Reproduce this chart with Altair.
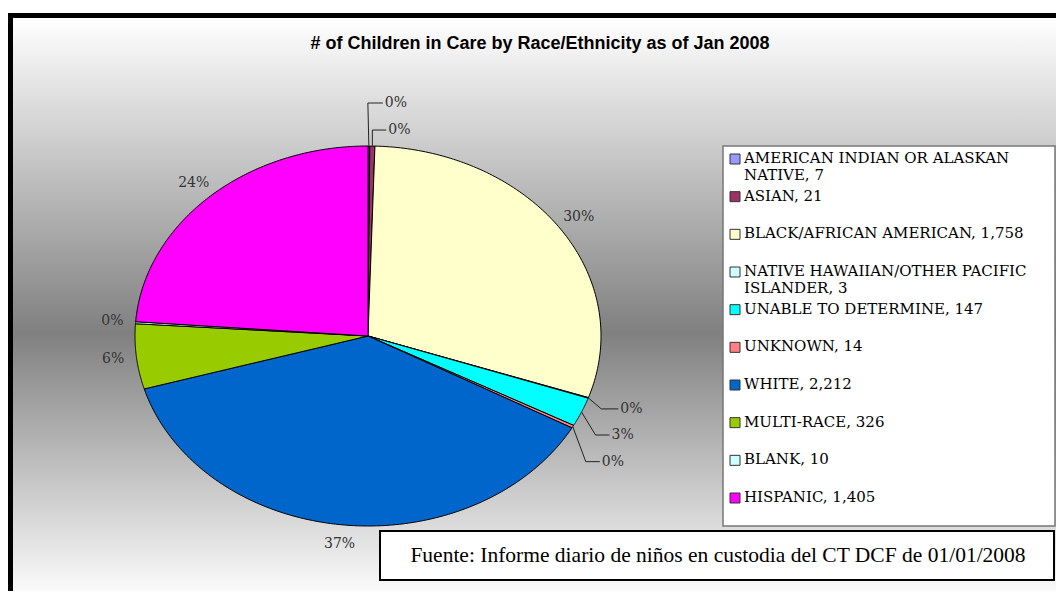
import altair as alt
import pandas as pd

# ---------------- data ----------------
categories = [
    "AMERICAN INDIAN OR ALASKAN NATIVE", "ASIAN", "BLACK/AFRICAN AMERICAN",
    "NATIVE HAWAIIAN/OTHER PACIFIC ISLANDER", "UNABLE TO DETERMINE", "UNKNOWN",
    "WHITE", "MULTI-RACE", "BLANK", "HISPANIC",
]
values = [7, 21, 1758, 3, 147, 14, 2212, 326, 10, 1405]
pct_labels = ["0%", "0%", "30%", "0%", "3%", "0%", "37%", "6%", "0%", "24%"]
legend_labels = [
    "AMERICAN INDIAN OR ALASKAN\nNATIVE, 7", "ASIAN, 21", "BLACK/AFRICAN AMERICAN, 1,758",
    "NATIVE HAWAIIAN/OTHER PACIFIC\nISLANDER, 3", "UNABLE TO DETERMINE, 147", "UNKNOWN, 14",
    "WHITE, 2,212", "MULTI-RACE, 326", "BLANK, 10", "HISPANIC, 1,405",
]
colors = ["#9999FF", "#993366", "#FFFFCC", "#CCFFFF", "#00FFFF",
          "#FF8080", "#0066CC", "#99CC00", "#CCFFFF", "#FF00FF"]

title_text = "# of Children in Care by Race/Ethnicity as of Jan 2008"
source_text = "Fuente: Informe diario de niños en custodia del CT DCF de 01/01/2008"

# ---------------- layout (pixels) ----------------
W, H = 1048, 583
CX, CY, RX, RY = 360, 328, 233, 190
# leader lines for the thin slices: elbow dx, elbow dy, end dx (px from slice edge)
leader_layout = {
    "AMERICAN INDIAN OR ALASKAN NATIVE": (-1, -43, 14),
    "ASIAN": (0, -16, 14),
    "NATIVE HAWAIIAN/OTHER PACIFIC ISLANDER": (13, 11, 30),
    "UNABLE TO DETERMINE": (14, 23, 28),
    "UNKNOWN": (13, 35, 27),
}

df = pd.DataFrame({
    "category": categories,
    "value": values,
    "pct": pct_labels,
    "legend": legend_labels,
    "order": list(range(len(categories))),
})
df["lead"] = df["category"].isin(leader_layout.keys())
df["ex"] = [leader_layout.get(c, (0, 0, 0))[0] for c in categories]
df["ey"] = [leader_layout.get(c, (0, 0, 0))[1] for c in categories]
df["tx"] = [leader_layout.get(c, (0, 0, 0))[2] for c in categories]

dummy = pd.DataFrame({"a": [0]})

xs = alt.Scale(domain=[-1, 1], range=[CX - RX, CX + RX], nice=False, zero=False)
ys = alt.Scale(domain=[-1, 1], range=[CY + RY, CY - RY], nice=False, zero=False)
cscale = alt.Scale(domain=categories, range=colors)


def with_angles(ch):
    return (
        ch.transform_joinaggregate(total="sum(value)")
        .transform_window(cum="sum(value)", sort=[alt.SortField("order")], frame=[None, 0])
        .transform_calculate(
            a0="2*PI*(datum.cum - datum.value)/datum.total",
            a1="2*PI*datum.cum/datum.total",
            mid="2*PI*(datum.cum - datum.value/2)/datum.total",
        )
    )


# background with gradient and black frame
bg = alt.Chart(dummy).mark_rect(
    fill=alt.LinearGradient(
        gradient="linear",
        stops=[alt.GradientStop(color="#ffffff", offset=0),
               alt.GradientStop(color="#808080", offset=0.55),
               alt.GradientStop(color="#fafafa", offset=1)],
        x1=0, x2=0, y1=0, y2=1,
    )
).encode(x=alt.value(5), x2=alt.value(W), y=alt.value(10), y2=alt.value(H))

frame_top = alt.Chart(dummy).mark_rect(color="black").encode(
    x=alt.value(0), x2=alt.value(W), y=alt.value(5), y2=alt.value(10))
frame_left = alt.Chart(dummy).mark_rect(color="black").encode(
    x=alt.value(0), x2=alt.value(5), y=alt.value(5), y2=alt.value(H))

# pie slices as filled polygons on an elliptical x/y scale
pie = (
    with_angles(alt.Chart(df))
    .transform_calculate(ks="sequence(0, 122)")
    .transform_flatten(["ks"], as_=["k"])
    .transform_calculate(
        ang="datum.a0 + (datum.a1 - datum.a0) * (datum.k - 1) / 119",
        px="(datum.k == 0 || datum.k == 121) ? 0 : sin(datum.ang)",
        py="(datum.k == 0 || datum.k == 121) ? 0 : cos(datum.ang)",
    )
    .mark_line(filled=True, stroke="black", strokeWidth=1, strokeJoin="round")
    .encode(
        x=alt.X("px:Q", scale=xs, axis=None),
        y=alt.Y("py:Q", scale=ys, axis=None),
        order=alt.Order("k:Q"),
        color=alt.Color("category:N", scale=cscale, legend=None),
        detail="category:N",
    )
)

# leader lines
leaders = (
    with_angles(alt.Chart(df))
    .transform_filter("datum.lead")
    .transform_calculate(ps="sequence(0, 3)")
    .transform_flatten(["ps"], as_=["p"])
    .transform_calculate(
        lx=f"sin(datum.mid) + (datum.p == 0 ? 0 : (datum.p == 1 ? datum.ex : datum.tx))/{RX}",
        ly=f"cos(datum.mid) - (datum.p == 0 ? 0 : datum.ey)/{RY}",
    )
    .mark_line(color="#222222", strokeWidth=1)
    .encode(
        x=alt.X("lx:Q", scale=xs, axis=None),
        y=alt.Y("ly:Q", scale=ys, axis=None),
        order=alt.Order("p:Q"),
        detail="category:N",
    )
)

lead_text = (
    with_angles(alt.Chart(df))
    .transform_filter("datum.lead")
    .transform_calculate(
        lx=f"sin(datum.mid) + (datum.tx + 2)/{RX}",
        ly=f"cos(datum.mid) - datum.ey/{RY}",
    )
    .mark_text(align="left", baseline="middle", font="DejaVu Serif", fontSize=14, color="#333333")
    .encode(
        x=alt.X("lx:Q", scale=xs, axis=None),
        y=alt.Y("ly:Q", scale=ys, axis=None),
        text="pct:N",
    )
)

main_text = (
    with_angles(alt.Chart(df))
    .transform_filter("!datum.lead")
    .transform_calculate(
        lx="1.1*sin(datum.mid)",
        ly="1.1*cos(datum.mid)",
    )
    .mark_text(align="center", baseline="middle", font="DejaVu Serif", fontSize=14, color="#333333")
    .encode(
        x=alt.X("lx:Q", scale=xs, axis=None),
        y=alt.Y("ly:Q", scale=ys, axis=None),
        text="pct:N",
    )
)

# legend (drawn by hand inside a box)
legend_box = alt.Chart(dummy).mark_rect(fill="white", stroke="#777777", strokeWidth=1.5).encode(
    x=alt.value(715), x2=alt.value(W - 1), y=alt.value(138), y2=alt.value(518))

leg_y = alt.Scale(type="point", domain=categories, range=[151, 490], padding=0)
legend_sq = alt.Chart(df).mark_square(size=100, stroke="#333333", strokeWidth=1, opacity=1).encode(
    x=alt.value(727),
    y=alt.Y("category:N", scale=leg_y, axis=None),
    color=alt.Color("category:N", scale=cscale, legend=None),
)
leg_y_text = alt.Scale(type="point", domain=categories, range=[143, 482], padding=0)
legend_txt = alt.Chart(df).mark_text(
    align="left", baseline="top", font="DejaVu Serif", fontSize=15, lineHeight=16.5,
    lineBreak="\n", color="black",
).encode(
    x=alt.value(736),
    y=alt.Y("category:N", scale=leg_y_text, axis=None),
    text="legend:N",
)

# source box
src_box = alt.Chart(dummy).mark_rect(fill="white", stroke="black", strokeWidth=2).encode(
    x=alt.value(372), x2=alt.value(W - 2), y=alt.value(523), y2=alt.value(572))
src_txt = alt.Chart(dummy).mark_text(
    text=source_text, font="Liberation Serif", fontSize=21.5, color="black",
    align="center", baseline="middle",
).encode(x=alt.value(710), y=alt.value(548))

title = alt.Chart(dummy).mark_text(
    text=title_text, font="Liberation Sans", fontSize=18, fontWeight="bold", color="black",
    align="center", baseline="middle",
).encode(x=alt.value(532), y=alt.value(36))

chart = (
    alt.layer(bg, frame_top, frame_left, pie, leaders, lead_text, main_text,
              legend_box, legend_sq, legend_txt, src_box, src_txt, title)
    .resolve_scale(x="independent", y="independent", color="independent")
    .properties(width=W, height=H, padding=0, autosize="none", background="white")
    .configure_view(stroke=None)
)

chart.save("out.html", embed_options={"renderer": "svg", "actions": False})
